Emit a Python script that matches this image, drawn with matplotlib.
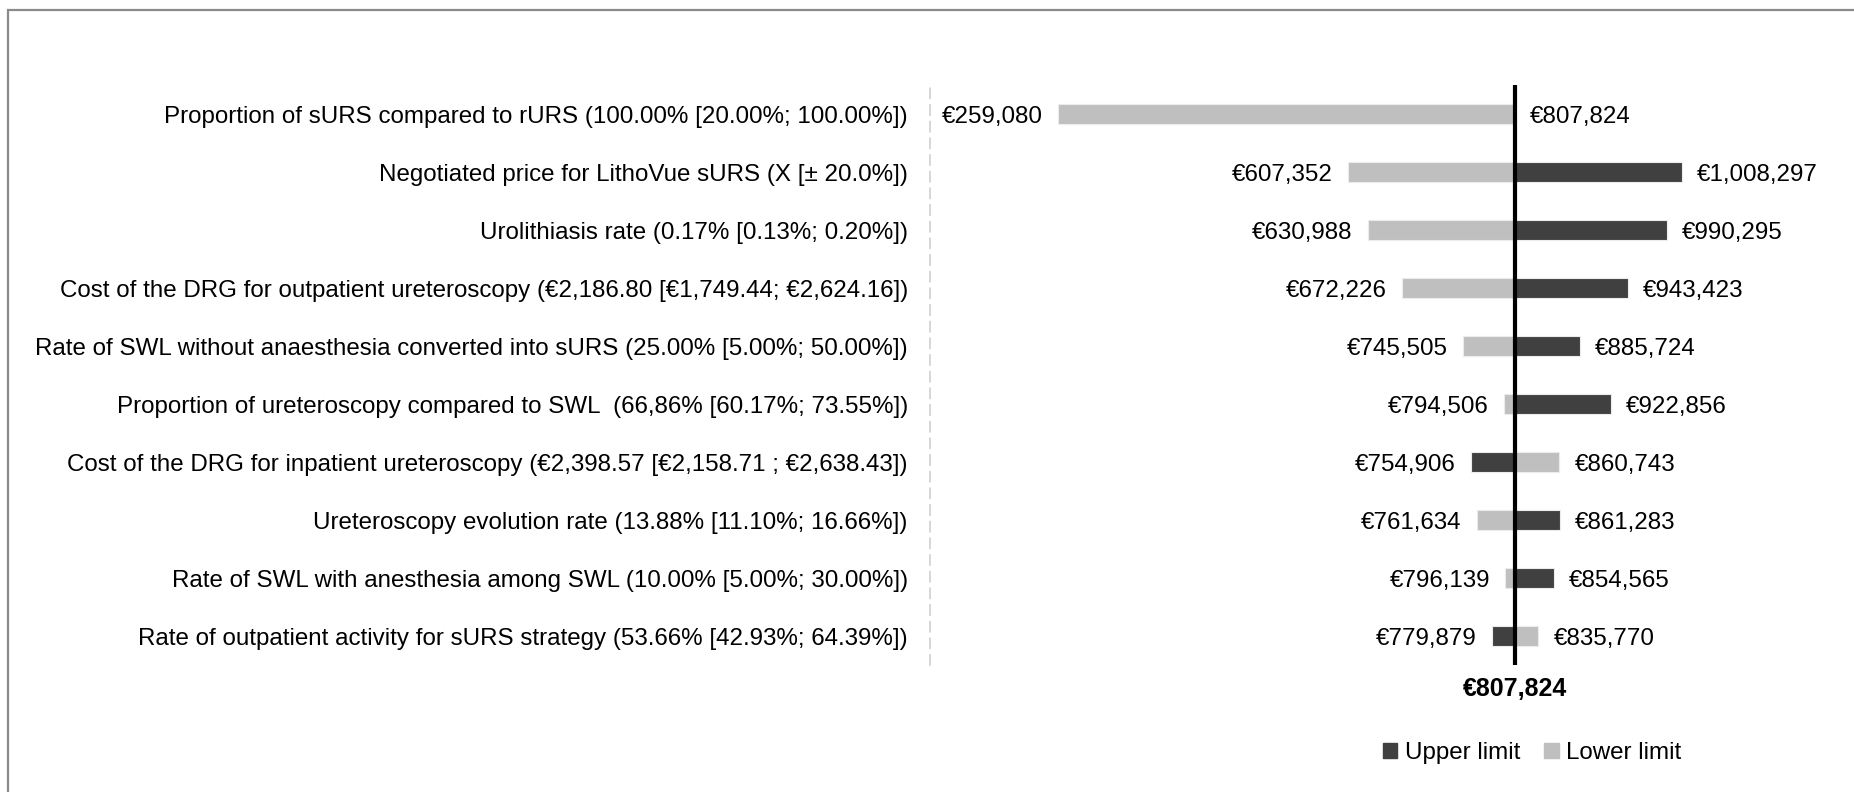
import matplotlib
matplotlib.use('Agg')
import matplotlib.pyplot as plt
from matplotlib.patches import Patch, Rectangle

plt.rcParams['font.family'] = ['Liberation Sans', 'DejaVu Sans']

# parameters of the one-way sensitivity analysis (top to bottom)
parameters = [
    'Proportion of sURS compared to rURS (100.00% [20.00%; 100.00%])',
    'Negotiated price for LithoVue sURS (X [\u00b1 20.0%])',
    'Urolithiasis rate (0.17% [0.13%; 0.20%])',
    'Cost of the DRG for outpatient ureteroscopy (\u20ac2,186.80 [\u20ac1,749.44; \u20ac2,624.16])',
    'Rate of SWL without anaesthesia converted into sURS (25.00% [5.00%; 50.00%])',
    'Proportion of ureteroscopy compared to SWL  (66,86% [60.17%; 73.55%])',
    'Cost of the DRG for inpatient ureteroscopy (\u20ac2,398.57 [\u20ac2,158.71 ; \u20ac2,638.43])',
    'Ureteroscopy evolution rate (13.88% [11.10%; 16.66%])',
    'Rate of SWL with anesthesia among SWL (10.00% [5.00%; 30.00%])',
    'Rate of outpatient activity for sURS strategy (53.66% [42.93%; 64.39%])',
]
base_value = 807824
lower_limit = [259080, 607352, 630988, 672226, 745505, 794506, 860743, 761634, 796139, 835770]
upper_limit = [807824, 1008297, 990295, 943423, 885724, 922856, 754906, 861283, 854565, 779879]

dark = '#404040'
light = '#bfbfbf'
fs = 17.4

W, H = 1854, 792
fig = plt.figure(figsize=(W / 100, H / 100), dpi=100)
ax = fig.add_axes([930 / W, 1 - 665 / H, 920 / W, 580 / H])

rows = list(range(len(parameters)))
ax.barh(rows, [v - base_value for v in lower_limit], left=base_value, height=0.36,
        color=light, edgecolor='#ececec', linewidth=0.8, zorder=2)
ax.barh(rows, [v - base_value for v in upper_limit], left=base_value, height=0.36,
        color=dark, edgecolor='#ececec', linewidth=0.8, zorder=2)
ax.axvline(base_value, color='black', linewidth=3, zorder=3)

# value labels at the end of each bar
for i in rows:
    for v in (lower_limit[i], upper_limit[i]):
        if v < base_value:
            ax.annotate('\u20ac{:,}'.format(v), (v, i), xytext=(-11, 0), textcoords='offset points',
                        ha='right', va='center_baseline', fontsize=fs)
        else:
            ax.annotate('\u20ac{:,}'.format(v), (v, i), xytext=(11, 0), textcoords='offset points',
                        ha='left', va='center_baseline', fontsize=fs)

px = 1200  # euros per pixel
ax.set_xlim(base_value - 585 * px, base_value + 335 * px)
ax.set_ylim(len(parameters) - 0.5, -0.5)
ax.set_yticks(rows)
ax.set_yticklabels(parameters, fontsize=fs)
ax.tick_params(axis='y', length=0, pad=16)
ax.set_xticks([])
for s in ['top', 'right', 'bottom']:
    ax.spines[s].set_visible(False)
ax.spines['left'].set_color('#d0d0d0')
ax.spines['left'].set_linewidth(1.2)
ax.spines['left'].set_linestyle((0, (6, 4)))

fig.text(1515 / W, 1 - 689 / H, '\u20ac{:,}'.format(base_value), ha='center', va='center',
         fontsize=18, fontweight='bold')

handles = [Patch(color=dark, label='Upper limit'), Patch(color=light, label='Lower limit')]
fig.legend(handles=handles, loc='center', bbox_to_anchor=(1532 / W, 1 - 753 / H), ncol=2,
           frameon=False, fontsize=fs, handlelength=0.6, handleheight=0.6,
           handletextpad=0.3, columnspacing=1.0)

fig.add_artist(Rectangle((8 / W, -0.1), 1.2, 1.1 - 10 / H, transform=fig.transFigure,
                         fill=False, edgecolor='#8a8a8a', linewidth=1.6))

fig.savefig('out.png', dpi=100)
